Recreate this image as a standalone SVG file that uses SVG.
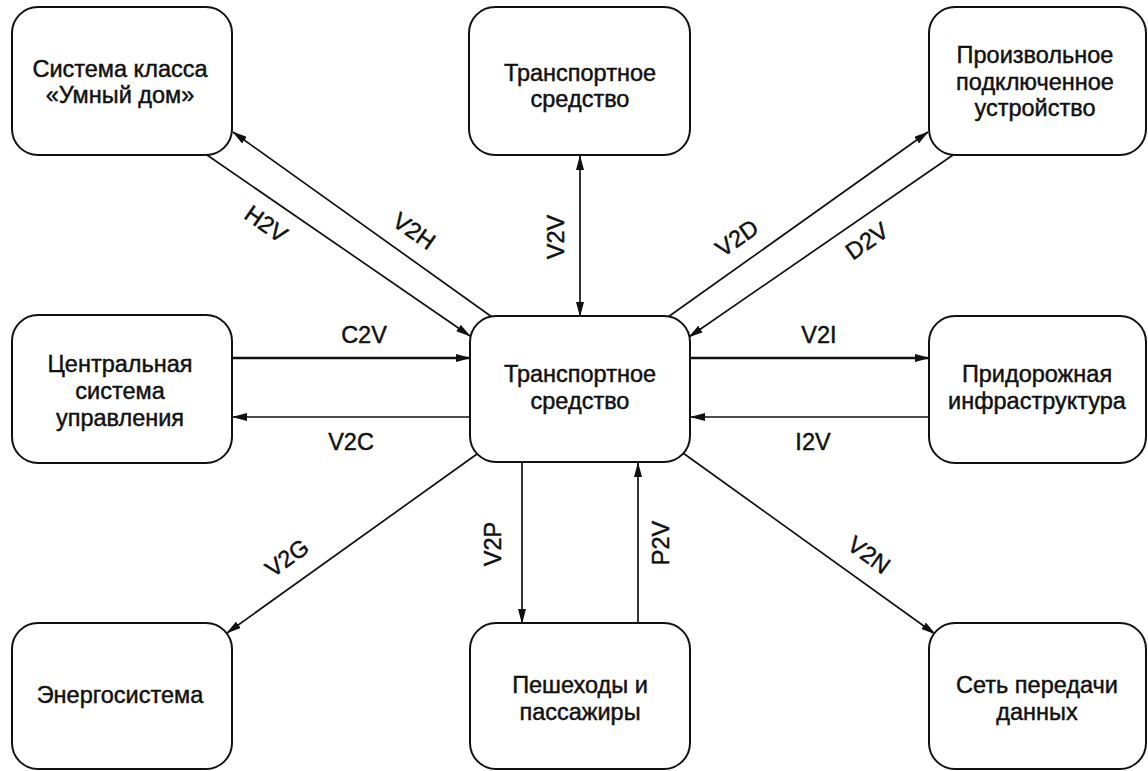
<svg xmlns="http://www.w3.org/2000/svg" width="1148" height="771" viewBox="0 0 1148 771">
<style>
.box{fill:#fff;stroke:#111;stroke-width:2}
.t{font-family:"Liberation Sans",Arial,sans-serif;font-size:23.5px;fill:#111;stroke:#111;stroke-width:0.45;text-anchor:middle}
.c{fill:none;stroke:#111;stroke-width:1.7}
.thick{stroke-width:2.5}
</style>
<defs>
<marker id="ah" markerUnits="userSpaceOnUse" viewBox="0 0 15 8" markerWidth="15" markerHeight="8" refX="14" refY="4" orient="auto-start-reverse">
<path d="M0,0 L15,4 L0,8 z" fill="#111"/>
</marker>
</defs>
<rect width="1148" height="771" fill="#fff"/>
<g id="connectors">
<line class="c" x1="207" y1="155" x2="470" y2="336" marker-end="url(#ah)"/>
<line class="c" x1="492" y1="317" x2="233" y2="132" marker-end="url(#ah)"/>
<line class="c" x1="580" y1="156" x2="580" y2="316" marker-start="url(#ah)" marker-end="url(#ah)"/>
<line class="c" x1="668" y1="317" x2="928" y2="132" marker-end="url(#ah)"/>
<line class="c" x1="953" y1="155" x2="689" y2="337" marker-end="url(#ah)"/>
<line class="c thick" x1="232" y1="358" x2="470" y2="358" marker-end="url(#ah)"/>
<line class="c" x1="470" y1="417" x2="233" y2="417" marker-end="url(#ah)"/>
<line class="c thick" x1="690" y1="358" x2="929" y2="358" marker-end="url(#ah)"/>
<line class="c" x1="929" y1="417" x2="691" y2="417" marker-end="url(#ah)"/>
<line class="c" x1="477" y1="454" x2="227" y2="633" marker-end="url(#ah)"/>
<line class="c" x1="522" y1="462" x2="522" y2="623" marker-end="url(#ah)"/>
<line class="c" x1="638" y1="623" x2="638" y2="463" marker-end="url(#ah)"/>
<line class="c" x1="683" y1="453" x2="935" y2="634" marker-end="url(#ah)"/>
<text class="t" transform="translate(266,224) rotate(35)" y="8">H2V</text>
<text class="t" transform="translate(414,231) rotate(35)" y="8">V2H</text>
<text class="t" transform="translate(556,237) rotate(-90)" y="8">V2V</text>
<text class="t" transform="translate(737,238) rotate(-35)" y="8">V2D</text>
<text class="t" transform="translate(867,241) rotate(-35)" y="8">D2V</text>
<text class="t" x="364" y="343">C2V</text>
<text class="t" x="351" y="450">V2C</text>
<text class="t" x="819" y="343">V2I</text>
<text class="t" x="813" y="450">I2V</text>
<text class="t" transform="translate(287,558) rotate(-36)" y="8">V2G</text>
<text class="t" transform="translate(493,544) rotate(-90)" y="8">V2P</text>
<text class="t" transform="translate(661,543) rotate(-90)" y="8">P2V</text>
<text class="t" transform="translate(869,555) rotate(36)" y="8">V2N</text>
</g>
<g id="smart-home">
<rect class="box" x="12" y="7" width="220" height="148" rx="26"/>
<text class="t" x="120" y="77">Система класса</text>
<text class="t" x="120" y="103">«Умный дом»</text>
</g>
<g id="vehicle-top">
<rect class="box" x="469" y="7" width="221" height="148" rx="26"/>
<text class="t" x="580" y="81">Транспортное</text>
<text class="t" x="580" y="107">средство</text>
</g>
<g id="device">
<rect class="box" x="929" y="7" width="217" height="148" rx="26"/>
<text class="t" x="1035" y="63">Произвольное</text>
<text class="t" x="1035" y="90">подключенное</text>
<text class="t" x="1035" y="116">устройство</text>
</g>
<g id="control-center">
<rect class="box" x="12" y="315" width="220" height="148" rx="26"/>
<text class="t" x="120" y="372">Центральная</text>
<text class="t" x="120" y="399">система</text>
<text class="t" x="120" y="426">управления</text>
</g>
<g id="vehicle-center">
<rect class="box" x="470" y="316" width="220" height="146" rx="26"/>
<text class="t" x="580" y="382">Транспортное</text>
<text class="t" x="580" y="409">средство</text>
</g>
<g id="roadside">
<rect class="box" x="929" y="316" width="217" height="147" rx="26"/>
<text class="t" x="1037" y="382">Придорожная</text>
<text class="t" x="1037" y="409">инфраструктура</text>
</g>
<g id="grid">
<rect class="box" x="12" y="623" width="220" height="146" rx="26"/>
<text class="t" x="120" y="703">Энергосистема</text>
</g>
<g id="pedestrians">
<rect class="box" x="470" y="623" width="220" height="146" rx="26"/>
<text class="t" x="580" y="693">Пешеходы и</text>
<text class="t" x="580" y="720">пассажиры</text>
</g>
<g id="network">
<rect class="box" x="929" y="623" width="217" height="146" rx="26"/>
<text class="t" x="1037" y="693">Сеть передачи</text>
<text class="t" x="1037" y="720">данных</text>
</g>
</svg>
